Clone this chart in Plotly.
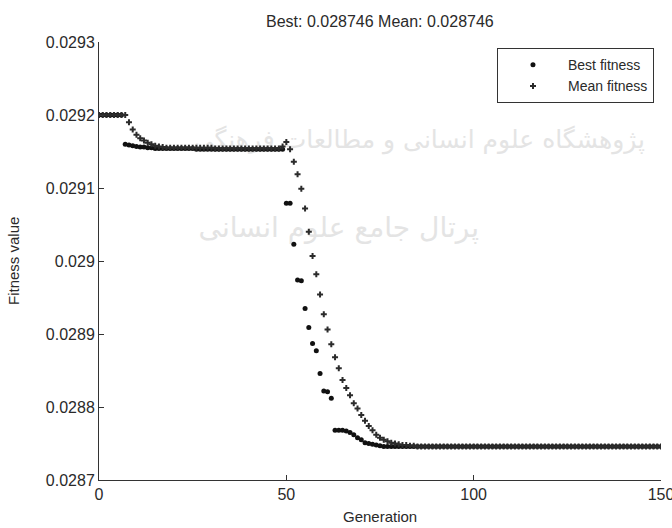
import plotly.graph_objects as go

# Generation numbers 0..150
generations = list(range(0, 151))

best_fitness = [
    0.029200, 0.029200, 0.029200, 0.029200, 0.029200, 0.029200, 0.029200, 0.029160, 0.029159, 0.029158,  # 0-9
    0.029157, 0.029156, 0.029156, 0.029155, 0.029155, 0.029154, 0.029154, 0.029154, 0.029154, 0.029154,  # 10-19
    0.029154, 0.029154, 0.029154, 0.029154, 0.029154, 0.029154, 0.029153, 0.029153, 0.029153, 0.029153,  # 20-29
    0.029153, 0.029153, 0.029153, 0.029153, 0.029153, 0.029153, 0.029153, 0.029153, 0.029153, 0.029153,  # 30-39
    0.029153, 0.029153, 0.029153, 0.029153, 0.029153, 0.029153, 0.029153, 0.029153, 0.029153, 0.029153,  # 40-49
    0.029079, 0.029079, 0.029023, 0.028974, 0.028973, 0.028935, 0.028909, 0.028887, 0.028877, 0.028846,  # 50-59
    0.028822, 0.028821, 0.028812, 0.028768, 0.028768, 0.028768, 0.028767, 0.028765, 0.028762, 0.028758,  # 60-69
    0.028755, 0.028751, 0.028750, 0.028749, 0.028748, 0.028747, 0.028746, 0.028746, 0.028746, 0.028746,  # 70-79
    0.028746, 0.028746, 0.028746, 0.028746, 0.028746, 0.028746, 0.028746, 0.028746, 0.028746, 0.028746,  # 80-89
    0.028746, 0.028746, 0.028746, 0.028746, 0.028746, 0.028746, 0.028746, 0.028746, 0.028746, 0.028746,  # 90-99
    0.028746, 0.028746, 0.028746, 0.028746, 0.028746, 0.028746, 0.028746, 0.028746, 0.028746, 0.028746,  # 100-109
    0.028746, 0.028746, 0.028746, 0.028746, 0.028746, 0.028746, 0.028746, 0.028746, 0.028746, 0.028746,  # 110-119
    0.028746, 0.028746, 0.028746, 0.028746, 0.028746, 0.028746, 0.028746, 0.028746, 0.028746, 0.028746,  # 120-129
    0.028746, 0.028746, 0.028746, 0.028746, 0.028746, 0.028746, 0.028746, 0.028746, 0.028746, 0.028746,  # 130-139
    0.028746, 0.028746, 0.028746, 0.028746, 0.028746, 0.028746, 0.028746, 0.028746, 0.028746, 0.028746,  # 140-149
    0.028746,                                                                                              # 150
]

mean_fitness = [
    0.029200, 0.029200, 0.029200, 0.029200, 0.029200, 0.029200, 0.029200, 0.029200, 0.029190, 0.029180,  # 0-9
    0.029173, 0.029168, 0.029165, 0.029162, 0.029160, 0.029158, 0.029157, 0.029156, 0.029155, 0.029155,  # 10-19
    0.029155, 0.029155, 0.029155, 0.029155, 0.029155, 0.029155, 0.029155, 0.029155, 0.029155, 0.029155,  # 20-29
    0.029155, 0.029154, 0.029154, 0.029154, 0.029154, 0.029154, 0.029154, 0.029154, 0.029154, 0.029154,  # 30-39
    0.029154, 0.029154, 0.029154, 0.029154, 0.029154, 0.029154, 0.029154, 0.029154, 0.029154, 0.029157,  # 40-49
    0.029163, 0.029153, 0.029136, 0.029119, 0.029099, 0.029072, 0.029040, 0.029007, 0.028982, 0.028954,  # 50-59
    0.028927, 0.028906, 0.028886, 0.028868, 0.028853, 0.028837, 0.028826, 0.028816, 0.028805, 0.028798,  # 60-69
    0.028789, 0.028781, 0.028774, 0.028768, 0.028762, 0.028758, 0.028755, 0.028753, 0.028751, 0.028750,  # 70-79
    0.028749, 0.028748, 0.028748, 0.028747, 0.028747, 0.028746, 0.028746, 0.028746, 0.028746, 0.028746,  # 80-89
    0.028746, 0.028746, 0.028746, 0.028746, 0.028746, 0.028746, 0.028746, 0.028746, 0.028746, 0.028746,  # 90-99
    0.028746, 0.028746, 0.028746, 0.028746, 0.028746, 0.028746, 0.028746, 0.028746, 0.028746, 0.028746,  # 100-109
    0.028746, 0.028746, 0.028746, 0.028746, 0.028746, 0.028746, 0.028746, 0.028746, 0.028746, 0.028746,  # 110-119
    0.028746, 0.028746, 0.028746, 0.028746, 0.028746, 0.028746, 0.028746, 0.028746, 0.028746, 0.028746,  # 120-129
    0.028746, 0.028746, 0.028746, 0.028746, 0.028746, 0.028746, 0.028746, 0.028746, 0.028746, 0.028746,  # 130-139
    0.028746, 0.028746, 0.028746, 0.028746, 0.028746, 0.028746, 0.028746, 0.028746, 0.028746, 0.028746,  # 140-149
    0.028746,                                                                                              # 150
]

x_tick_vals = [0, 50, 100, 150]
y_tick_vals = [0.0287, 0.0288, 0.0289, 0.029, 0.0291, 0.0292, 0.0293]
y_tick_text = ["0.0287", "0.0288", "0.0289", "0.029", "0.0291", "0.0292", "0.0293"]

title_text = "Best: 0.028746 Mean: 0.028746"
watermark_lines = ["پژوهشگاه علوم انسانی و مطالعات فرهنگی", "پرتال جامع علوم انسانی"]
watermark_x = [85.5, 64]
watermark_y = [0.029164, 0.029042]
watermark_sizes = [25, 28]

FONT = "Liberation Sans, Arial, sans-serif"
TXT = "#2a2a2a"

fig = go.Figure()

# faint background watermark (drawn first, beneath data)
fig.add_trace(go.Scatter(
    x=watermark_x, y=watermark_y, mode="text", text=watermark_lines,
    textfont=dict(family="DejaVu Sans", size=watermark_sizes, color="#e4e4e4"),
    showlegend=False, hoverinfo="skip", cliponaxis=False,
))

fig.add_trace(go.Scatter(
    x=generations, y=best_fitness, mode="markers", name="Best fitness",
    marker=dict(symbol="circle", size=5, color="#111111"),
))
fig.add_trace(go.Scatter(
    x=generations, y=mean_fitness, mode="markers", name="Mean fitness",
    marker=dict(symbol="cross", size=5, color="#2b2b2b"),
))

fig.update_layout(
    width=672, height=528,
    margin=dict(l=99, r=11, t=42, b=48),
    paper_bgcolor="white", plot_bgcolor="white",
    font=dict(family=FONT, size=16, color=TXT),
    showlegend=True,
    legend=dict(
        x=0.9875, xanchor="right", y=0.986, yanchor="top",
        bgcolor="white", bordercolor="#333333", borderwidth=1,
        font=dict(family=FONT, size=14, color=TXT),
        itemwidth=60, tracegroupgap=0,
    ),
    xaxis=dict(
        range=[0, 150], tickvals=x_tick_vals,
        showline=True, linecolor="#333333", linewidth=1,
        ticks="inside", ticklen=5, tickcolor="#333333",
        showgrid=False, zeroline=False, mirror=False,
        ticklabeloverflow="allow", automargin=False,
        tickfont=dict(family=FONT, size=16, color=TXT),
    ),
    yaxis=dict(
        range=[0.0287, 0.0293], tickvals=y_tick_vals, ticktext=y_tick_text,
        showline=True, linecolor="#333333", linewidth=1,
        ticks="inside", ticklen=5, tickcolor="#333333",
        showgrid=False, zeroline=False, mirror=False,
        ticklabeloverflow="allow", automargin=False,
        tickfont=dict(family=FONT, size=16, color=TXT),
    ),
    annotations=[
        dict(text=title_text, xref="paper", yref="paper", x=0.5, y=1 + 21 / 438,
             xanchor="center", yanchor="middle", showarrow=False,
             font=dict(family=FONT, size=16, color=TXT)),
        dict(text="Generation", xref="paper", yref="paper", x=0.5, y=-36 / 438,
             xanchor="center", yanchor="middle", showarrow=False,
             font=dict(family=FONT, size=15, color=TXT)),
        dict(text="Fitness value", xref="paper", yref="paper", x=-86 / 562, y=0.5,
             xanchor="center", yanchor="middle", showarrow=False, textangle=-90,
             font=dict(family=FONT, size=15, color=TXT)),
    ],
)

fig.write_html("out.html")
